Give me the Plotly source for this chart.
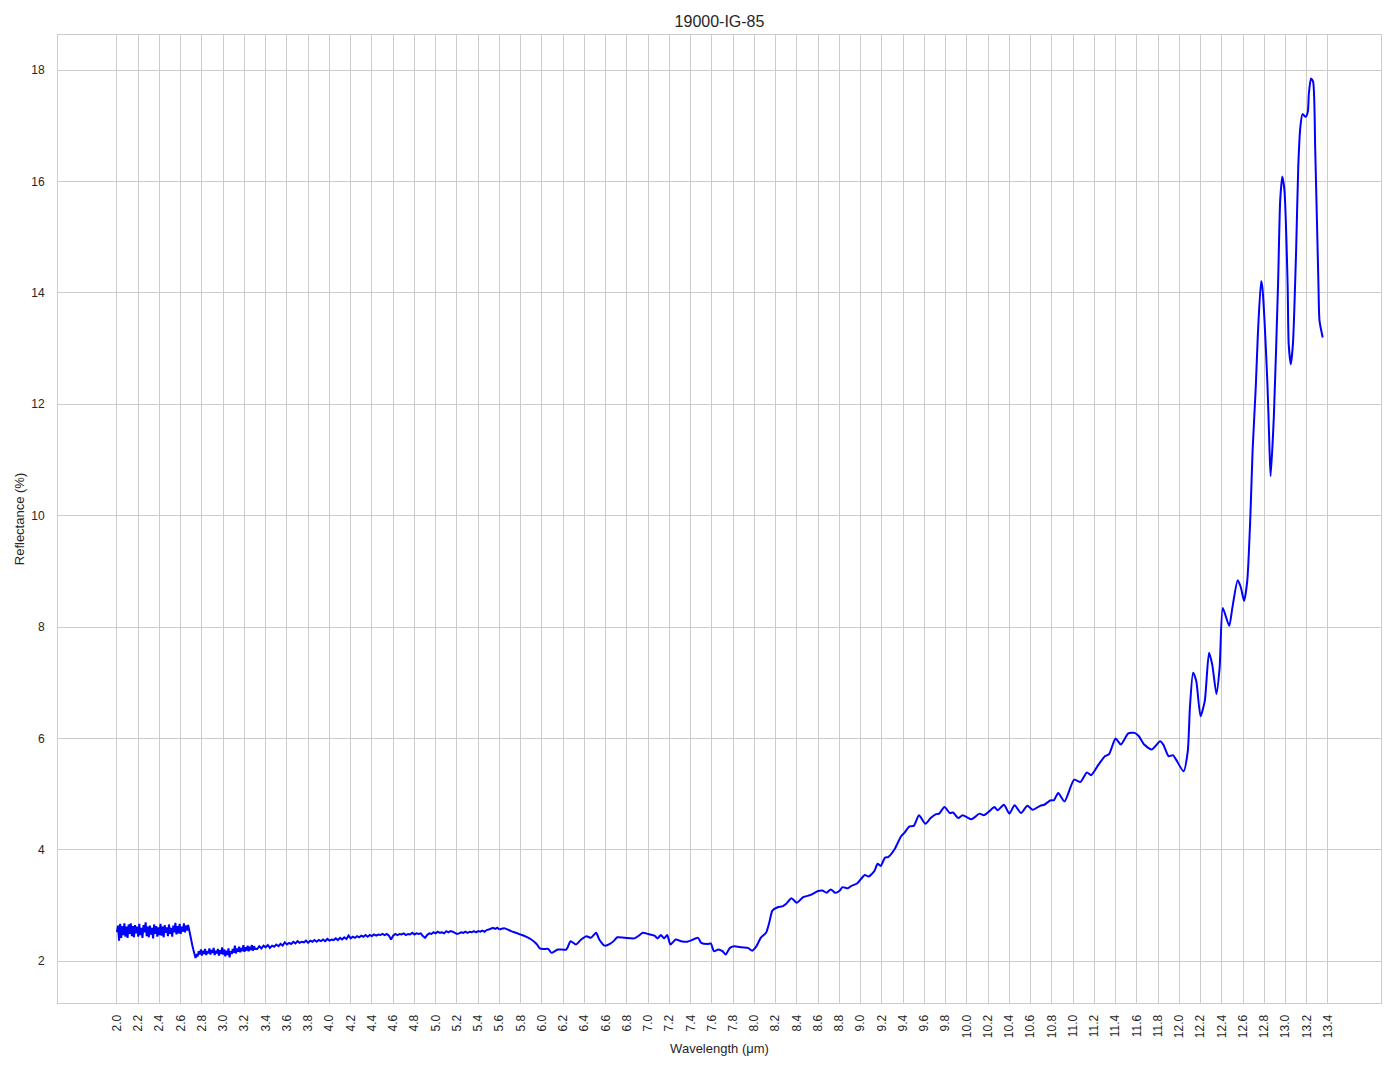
import numpy as np
import plotly.graph_objects as go

# ---- data ----
# noisy segment 2.00-2.68 (0.01 sampling)
wl_a = np.round(np.arange(2.00, 2.685, 0.01), 2)
r_a = [2.52,2.64,2.37,2.67,2.42,2.63,2.47,2.68,2.44,2.62,
       2.42,2.66,2.49,2.68,2.45,2.63,2.43,2.65,2.50,2.62,
       2.44,2.67,2.47,2.60,2.42,2.65,2.52,2.70,2.45,2.62,
       2.43,2.64,2.48,2.60,2.41,2.66,2.49,2.63,2.44,2.61,
       2.47,2.67,2.46,2.62,2.43,2.65,2.51,2.61,2.45,2.66,
       2.49,2.60,2.44,2.64,2.52,2.69,2.48,2.63,2.50,2.67,
       2.49,2.62,2.53,2.68,2.52,2.64,2.55,2.65,2.56]
# drop near 2.7
wl_b = [2.69, 2.70, 2.71, 2.72, 2.73, 2.74, 2.75]
r_b = [2.45, 2.36, 2.28, 2.20, 2.12, 2.06, 2.11]
# noisy segment 2.76-3.30 (0.01 sampling)
wl_c = np.round(np.arange(2.76, 3.305, 0.01), 2)
r_c = [2.09,2.18,2.12,2.21,2.10,2.19,2.13,2.22,2.11,2.18,
       2.14,2.23,2.12,2.20,2.15,2.24,2.11,2.19,2.14,2.22,
       2.10,2.20,2.13,2.25,2.12,2.21,2.09,2.19,2.11,2.23,
       2.07,2.18,2.13,2.22,2.15,2.28,2.14,2.23,2.17,2.26,
       2.16,2.24,2.18,2.29,2.17,2.25,2.19,2.28,2.18,2.26,
       2.20,2.29,2.19,2.27,2.22]
# segment 3.32-5.58 (0.02 sampling)
wl_d = np.round(np.arange(3.32, 5.585, 0.02), 2)
r_d = [2.22,2.27,2.23,2.28,2.25,2.29,2.24,2.28,2.26,2.30,
       2.27,2.31,2.28,2.34,2.30,2.33,2.31,2.35,2.32,2.36,
       2.33,2.35,2.34,2.37,2.33,2.37,2.35,2.38,2.35,2.38,
       2.36,2.39,2.36,2.40,2.37,2.39,2.38,2.41,2.38,2.42,
       2.39,2.43,2.40,2.46,2.41,2.44,2.42,2.45,2.43,2.46,
       2.44,2.47,2.44,2.47,2.45,2.48,2.46,2.48,2.47,2.49,
       2.47,2.49,2.46,2.39,2.46,2.49,2.47,2.49,2.48,2.50,
       2.47,2.49,2.48,2.51,2.48,2.50,2.49,2.50,2.45,2.42,
       2.47,2.50,2.49,2.52,2.50,2.53,2.51,2.52,2.50,2.54,
       2.52,2.54,2.53,2.51,2.49,2.50,2.52,2.51,2.53,2.51,
       2.53,2.52,2.54,2.52,2.54,2.53,2.55,2.53,2.56,2.57,
       2.59,2.60,2.58,2.60]
# smooth segment 5.60-13.35
wl_e = [5.60,5.65,5.71,5.77,5.84,5.90,5.95,5.98,6.02,6.06,6.09,6.15,6.23,6.27,6.32,
        6.37,6.42,6.46,6.51,6.54,6.59,6.64,6.68,6.71,6.78,6.87,6.92,6.95,7.00,7.06,
        7.09,7.12,7.15,7.18,7.21,7.26,7.31,7.37,7.40,7.47,7.50,7.56,7.59,7.62,7.66,
        7.70,7.73,7.77,7.81,7.88,7.94,7.98,8.02,8.06,8.11,8.14,8.17,8.22,8.27,8.30,
        8.35,8.40,8.46,8.53,8.60,8.64,8.68,8.72,8.76,8.80,8.83,8.88,8.91,8.97,9.04,
        9.075,9.13,9.16,9.19,9.23,9.26,9.32,9.38,9.41,9.46,9.50,9.55,9.61,9.66,9.71,
        9.74,9.79,9.84,9.87,9.92,9.96,10.04,10.07,10.12,10.16,10.21,10.26,10.29,10.35,
        10.40,10.45,10.51,10.57,10.62,10.69,10.73,10.79,10.82,10.86,10.92,11.01,11.07,
        11.13,11.17,11.24,11.30,11.34,11.40,11.45,11.52,11.58,11.62,11.67,11.74,11.82,
        11.85,11.90,11.94,11.97,12.04,12.08,12.10,12.13,12.16,12.20,12.24,12.28,12.31,
        12.35,12.38,12.41,12.47,12.50,12.55,12.58,12.61,12.64,12.67,12.69,12.72,12.74,
        12.77,12.78,12.83,12.85,12.86,12.89,12.93,12.95,12.97,12.99,13.02,13.03,13.05,
        13.07,13.10,13.12,13.14,13.16,13.19,13.21,13.22,13.24,13.26,13.28,13.31,13.32,
        13.35]
r_e = [2.57,2.59,2.54,2.50,2.45,2.39,2.31,2.23,2.22,2.22,2.15,2.21,2.21,2.36,2.30,
       2.39,2.45,2.42,2.51,2.39,2.28,2.31,2.37,2.43,2.42,2.41,2.47,2.51,2.49,2.46,
       2.41,2.47,2.41,2.47,2.30,2.39,2.36,2.35,2.37,2.42,2.33,2.31,2.32,2.18,2.21,
       2.18,2.12,2.24,2.27,2.25,2.24,2.19,2.27,2.42,2.51,2.69,2.91,2.97,2.99,3.03,
       3.13,3.05,3.15,3.19,3.26,3.27,3.23,3.29,3.23,3.26,3.33,3.31,3.35,3.40,3.55,
       3.52,3.62,3.75,3.71,3.86,3.87,4.01,4.24,4.30,4.42,4.43,4.62,4.47,4.57,4.64,
       4.65,4.77,4.66,4.67,4.57,4.62,4.55,4.58,4.65,4.62,4.69,4.77,4.71,4.81,
       4.65,4.80,4.66,4.79,4.72,4.79,4.81,4.89,4.89,5.02,4.87,5.26,5.22,
       5.39,5.34,5.53,5.68,5.72,6.00,5.89,6.09,6.10,6.04,5.89,5.80,5.95,
       5.89,5.68,5.70,5.62,5.41,5.77,6.55,7.18,7.03,6.40,6.67,7.54,7.33,
       6.80,7.27,8.34,8.02,8.35,8.84,8.71,8.47,8.83,10.02,11.16,12.30,13.26,
       14.21,14.13,12.36,11.16,10.71,11.76,14.16,15.66,16.09,15.84,14.16,13.08,12.72,
       13.08,14.76,16.26,16.98,17.21,17.16,17.25,17.58,17.85,17.79,16.56,14.16,13.50,
       13.20]

x_tick_vals = [round(2.0 + 0.2 * i, 1) for i in range(58)]
x_tick_text = [f"{v:.1f}" for v in x_tick_vals]
y_tick_vals = [2, 4, 6, 8, 10, 12, 14, 16, 18]

# noisy part drawn with straight segments, smooth part with a spline
wl_noisy = list(wl_a) + wl_b + list(wl_c) + list(wl_d) + wl_e[:1]
r_noisy = r_a + r_b + r_c + r_d + r_e[:1]

fig = go.Figure()
fig.add_trace(go.Scatter(
    x=wl_noisy, y=r_noisy, mode="lines",
    line=dict(color="#0000ff", width=2), showlegend=False,
))
fig.add_trace(go.Scatter(
    x=wl_e, y=r_e, mode="lines",
    line=dict(color="#0000ff", width=2, shape="spline", smoothing=0.6),
    showlegend=False,
))

font_family = "Liberation Sans, Arial, DejaVu Sans, sans-serif"
fig.update_layout(
    width=1387, height=1062,
    margin=dict(l=50, r=14, t=27, b=67, autoexpand=False),
    paper_bgcolor="white", plot_bgcolor="white",
    font=dict(family=font_family, color="#262626", size=13),
    title=dict(text="19000-IG-85", x=0.5, xanchor="center", xref="paper",
               y=1 - 13 / 1062, yanchor="middle",
               font=dict(size=16, color="#262626")),
)
fig.update_xaxes(
    range=[1.445, 13.899], automargin=False,
    tickmode="array", tickvals=x_tick_vals, ticktext=x_tick_text,
    tickangle=-90, tickfont=dict(size=12, color="#262626"),
    showgrid=True, gridcolor="#cccccc", gridwidth=1,
    showline=True, linecolor="#cccccc", linewidth=1, mirror=True,
    zeroline=False, ticks="", ticklabelstandoff=6,
    title=dict(text="Wavelength (μm)", font=dict(size=13, color="#262626"), standoff=6),
)
fig.update_yaxes(
    range=[1.25, 18.63], automargin=False,
    tickmode="array", tickvals=y_tick_vals,
    tickfont=dict(size=12, color="#262626"),
    showgrid=True, gridcolor="#cccccc", gridwidth=1,
    showline=True, linecolor="#cccccc", linewidth=1, mirror=True,
    zeroline=False, ticks="", ticklabelstandoff=10,
    title=dict(text="Reflectance (%)", font=dict(size=13, color="#262626"), standoff=3),
)

fig.write_html("out.html")
